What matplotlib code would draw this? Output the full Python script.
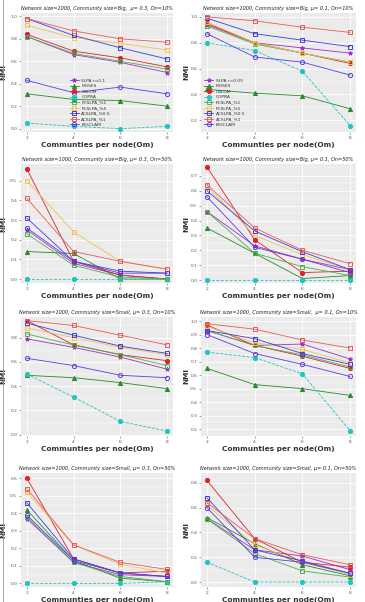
"""
NMI of overlapping community detection methods on LFR networks (n=1000).
"""
import matplotlib
matplotlib.use("Agg")
from matplotlib import pyplot as plt
from matplotlib.ticker import AutoMinorLocator, MultipleLocator, FormatStrFormatter

om = [2, 4, 6, 8]

methods = ["SLPA", "MOSES", "OSLOM", "COPRA", "PCSLPA_%1", "PCSLPA_%5",
           "ACSLPA_%0.5", "ACSLPA_%1", "BIGCLAM"]

titles = [
    "Network size=1000, Community size=Big,  \u03bc= 0.3, On=10%",
    "Network size=1000, Community size=Big, \u03bc= 0.1, On=10%",
    "Network size=1000, Community size=Big, \u03bc= 0.3, On=50%",
    "Network size=1000, Community size=Big, \u03bc= 0.1, On=50%",
    "Network size=1000, Community size=Small, \u03bc= 0.3, On=10%",
    "Network size=1000, Community size=Small,  \u03bc= 0.1, On=10%",
    "Network size=1000, Community size=Small, \u03bc= 0.3, On=50%",
    "Network size=1000, Community size=Small, \u03bc= 0.1, On=50%",
]

# NMI per panel, one row per method (same order as `methods`)
big_03_10 = [
    [0.82, 0.66, 0.59, 0.50],
    [0.31, 0.26, 0.25, 0.20],
    [0.84, 0.69, 0.63, 0.55],
    [0.05, 0.02, 0.00, 0.02],
    [0.82, 0.67, 0.60, 0.53],
    [0.92, 0.81, 0.76, 0.70],
    [0.98, 0.83, 0.72, 0.62],
    [0.98, 0.87, 0.80, 0.77],
    [0.43, 0.32, 0.37, 0.31],
]
big_01_10 = [
    [0.94, 0.80, 0.76, 0.72],
    [0.44, 0.41, 0.39, 0.29],
    [0.95, 0.80, 0.72, 0.64],
    [0.80, 0.74, 0.58, 0.16],
    [0.93, 0.79, 0.72, 0.65],
    [0.96, 0.80, 0.72, 0.65],
    [0.99, 0.87, 0.82, 0.77],
    [1.00, 0.97, 0.92, 0.88],
    [0.87, 0.69, 0.65, 0.55],
]
big_03_50 = [
    [0.25, 0.08, 0.02, 0.00],
    [0.14, 0.13, 0.00, 0.00],
    [0.56, 0.09, 0.02, 0.00],
    [0.00, 0.00, 0.00, 0.00],
    [0.23, 0.07, 0.01, 0.00],
    [0.50, 0.24, 0.09, 0.05],
    [0.31, 0.09, 0.04, 0.03],
    [0.41, 0.14, 0.09, 0.05],
    [0.26, 0.09, 0.03, 0.03],
]
big_01_50 = [
    [0.46, 0.23, 0.14, 0.07],
    [0.35, 0.18, 0.01, 0.03],
    [0.76, 0.27, 0.05, 0.06],
    [0.00, 0.00, 0.00, 0.00],
    [0.46, 0.18, 0.09, 0.03],
    [0.63, 0.30, 0.17, 0.07],
    [0.60, 0.33, 0.19, 0.07],
    [0.64, 0.35, 0.20, 0.11],
    [0.56, 0.22, 0.14, 0.05],
]
small_03_10 = [
    [0.79, 0.72, 0.64, 0.54],
    [0.49, 0.47, 0.43, 0.38],
    [0.94, 0.74, 0.66, 0.61],
    [0.50, 0.31, 0.11, 0.03],
    [0.83, 0.74, 0.66, 0.57],
    [0.88, 0.80, 0.72, 0.66],
    [0.92, 0.82, 0.73, 0.67],
    [0.94, 0.90, 0.82, 0.74],
    [0.63, 0.57, 0.49, 0.47],
]
small_01_10 = [
    [0.93, 0.82, 0.83, 0.72],
    [0.65, 0.53, 0.50, 0.45],
    [0.97, 0.82, 0.74, 0.65],
    [0.77, 0.73, 0.61, 0.19],
    [0.93, 0.82, 0.75, 0.66],
    [0.96, 0.84, 0.79, 0.69],
    [0.93, 0.87, 0.76, 0.68],
    [0.98, 0.94, 0.86, 0.80],
    [0.90, 0.76, 0.68, 0.59],
]
small_03_50 = [
    [0.37, 0.12, 0.05, 0.04],
    [0.42, 0.13, 0.03, 0.01],
    [0.60, 0.14, 0.06, 0.07],
    [0.00, 0.00, 0.00, 0.01],
    [0.38, 0.12, 0.04, 0.01],
    [0.52, 0.22, 0.11, 0.06],
    [0.46, 0.14, 0.06, 0.04],
    [0.54, 0.22, 0.12, 0.08],
    [0.39, 0.13, 0.06, 0.04],
]
small_01_50 = [
    [0.51, 0.26, 0.21, 0.10],
    [0.52, 0.31, 0.14, 0.05],
    [0.82, 0.35, 0.16, 0.12],
    [0.16, 0.00, 0.00, 0.00],
    [0.51, 0.23, 0.09, 0.04],
    [0.62, 0.30, 0.16, 0.06],
    [0.68, 0.26, 0.17, 0.07],
    [0.64, 0.35, 0.22, 0.14],
    [0.60, 0.20, 0.16, 0.07],
]

panels = [big_03_10, big_01_10, big_03_50, big_01_50,
          small_03_10, small_01_10, small_03_50, small_01_50]

styles = {
    "SLPA":        dict(color="#a030c8", marker="*", mfc="#a030c8"),
    "MOSES":       dict(color="#2a8a2a", marker="^", mfc="#2a8a2a"),
    "OSLOM":       dict(color="#e0202a", marker="o", mfc="#e0202a"),
    "COPRA":       dict(color="#20c4c0", marker="o", mfc="#20c4c0", ls="--"),
    "PCSLPA_%1":   dict(color="#4caf50", marker="s", mfc="none"),
    "PCSLPA_%5":   dict(color="#f2c14e", marker="s", mfc="none"),
    "ACSLPA_%0.5": dict(color="#3c3cdc", marker="s", mfc="none"),
    "ACSLPA_%1":   dict(color="#e85a5a", marker="s", mfc="none"),
    "BIGCLAM":     dict(color="#5a3ce0", marker="o", mfc="none"),
}

# (top, bottom) pixel rows of each panel row, (left, right) pixel columns
W, H = 365, 602
rows = [(13, 132), (164, 283), (317, 436), (473, 587)]
cols = [(21, 173), (201, 356)]
ylims = [(-0.03, 1.03), (0.11, 1.03), (-0.02, 0.585), (-0.02, 0.78),
         (-0.01, 0.97), (0.15, 1.03), (-0.02, 0.63), (-0.04, 0.88)]
ysteps = [0.2, 0.2, 0.1, 0.1, 0.2, 0.1, 0.1, 0.2]

fig = plt.figure(figsize=(W / 100, H / 100), dpi=100)
fig.patch.set_facecolor("white")

for i, data in enumerate(panels):
    r, c = divmod(i, 2)
    top, bot = rows[r]
    left, right = cols[c]
    ax = fig.add_axes([left / W, 1 - bot / H, (right - left) / W, (bot - top) / H])
    ax.set_facecolor("#ebebeb")
    for s in ax.spines.values():
        s.set_visible(False)
    ax.set_axisbelow(True)
    ax.grid(True, which="major", color="white", lw=0.6)
    ax.grid(True, which="minor", axis="y", color="white", lw=0.3)

    for name, vals in zip(methods, data):
        st = styles[name]
        label = name
        if name == "SLPA":
            label = "SLPA r=0.1" if i == 0 else "SLPA r=0.05"
        ax.plot(om, vals, color=st["color"], marker=st["marker"],
                mfc=st["mfc"], mec=st["color"], ls=st.get("ls", "-"),
                lw=0.6, ms=3.0, mew=0.7, label=label)

    ax.set_xlim(1.75, 8.25)
    ax.set_ylim(*ylims[i])
    ax.set_xticks(om)
    ax.yaxis.set_major_locator(MultipleLocator(ysteps[i]))
    ax.yaxis.set_minor_locator(AutoMinorLocator(2))
    ax.yaxis.set_major_formatter(FormatStrFormatter("%.1f"))
    ax.tick_params(which="major", length=1.5, width=0.4, color="#555555",
                   labelsize=3.2, labelcolor="#555555", pad=1.2)
    ax.tick_params(which="minor", length=0)

    ax.set_title(titles[i], fontsize=3.6, style="italic", pad=2.5, color="#222222")
    ax.set_xlabel("Communties per node(Om)", fontsize=5.3, fontweight="bold",
                  color="#333333", labelpad=1.5)
    ax.set_ylabel("NMI", fontsize=5.3, fontweight="bold", color="#333333")
    ax.yaxis.set_label_coords(-0.095 if c == 0 else -0.075, 0.5)

    if i < 2:
        loc = (0.3, 0.02) if i == 0 else (0.0, 0.02)
        leg = ax.legend(loc="lower left", bbox_to_anchor=loc, fontsize=3.2,
                        frameon=False, handlelength=2.0, labelspacing=0.3,
                        handletextpad=0.6, borderaxespad=0.3)
        for t in leg.get_texts():
            t.set_color("#333333")

# thin frame line on the left edge like the source figure
fig.add_artist(plt.Line2D([3 / W, 3 / W], [0, 1], color="#999999", lw=0.6))

fig.savefig("out.png", dpi=100)
